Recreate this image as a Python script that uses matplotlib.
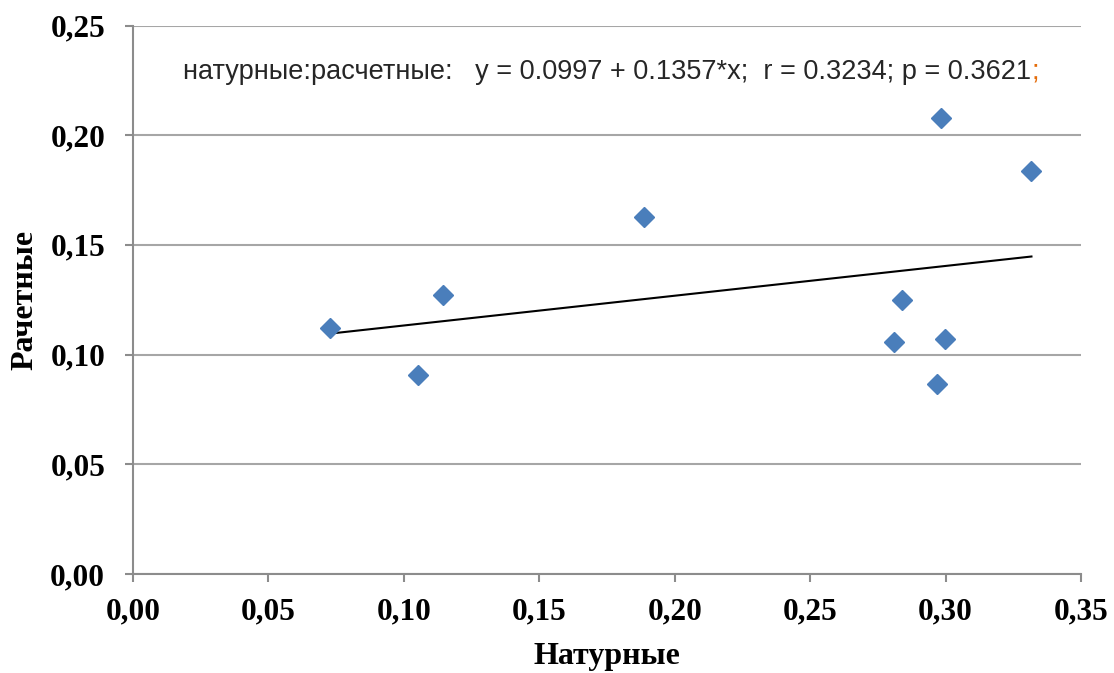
import matplotlib.pyplot as plt
from matplotlib.ticker import FuncFormatter

# data
natural = [0.0727, 0.1052, 0.1144, 0.1886, 0.2808, 0.2838, 0.2982, 0.2967, 0.2996, 0.3317]
calculated = [0.1121, 0.0907, 0.1272, 0.1627, 0.1056, 0.1249, 0.2080, 0.0865, 0.1071, 0.1837]
fit_a = 0.0997
fit_b = 0.1357

fig = plt.figure(figsize=(11.14, 6.73), dpi=100)
ax = fig.add_axes([0.1194, 0.1471, 0.8510, 0.8150])

ax.set_xlim(0, 0.35)
ax.set_ylim(0, 0.25)
ax.set_xticks([0, 0.05, 0.10, 0.15, 0.20, 0.25, 0.30, 0.35])
ax.set_yticks([0, 0.05, 0.10, 0.15, 0.20, 0.25])
comma = FuncFormatter(lambda v, p: f'{v:.2f}'.replace('.', ','))
ax.xaxis.set_major_formatter(comma)
ax.yaxis.set_major_formatter(comma)

ax.grid(axis='y', color='#a6a6a6', linewidth=1.5, zorder=0)
for s in ['top', 'right']:
    ax.spines[s].set_visible(False)
for s in ['left', 'bottom']:
    ax.spines[s].set_color('#8c8c8c')
    ax.spines[s].set_linewidth(1.5)
ax.tick_params(direction='out', length=6, width=1.5, color='#8c8c8c')
ax.tick_params(axis='x', pad=11)
ax.tick_params(axis='y', pad=14)
for lab in ax.get_xticklabels() + ax.get_yticklabels():
    lab.set_fontfamily('Liberation Serif')
    lab.set_fontweight('bold')
    lab.set_fontsize(22.5)

# fit line over the data range
x0, x1 = min(natural), max(natural)
ax.plot([x0, x1], [fit_a + fit_b * x0, fit_a + fit_b * x1], color='black', linewidth=1.5, zorder=2)
ax.plot(natural, calculated, linestyle='none', marker='D', markersize=10,
        color='#4a7ebb', markeredgecolor='#4a7ebb', zorder=3)

ax.set_xlabel('Натурные', fontfamily='Liberation Serif', fontweight='bold', fontsize=23, labelpad=11)
ax.set_ylabel('Рачетные', fontfamily='Liberation Serif', fontweight='bold', fontsize=23, labelpad=8)

txt = f'натурные:расчетные:   y = {fit_a} + {fit_b}*x;  r = 0.3234; p = 0.3621'
t = ax.text(0.0185, 0.229, txt, fontfamily='Liberation Sans', fontsize=19.5,
            color='#262626', va='center', ha='left')
fig.canvas.draw()
bb = t.get_window_extent()
ax.annotate(';', xy=(bb.x1, (bb.y0 + bb.y1) / 2), xycoords='figure pixels',
            fontfamily='Liberation Sans', fontsize=19.5, color='#e46c0a', va='center', ha='left')

fig.savefig('out.png', dpi=100)
